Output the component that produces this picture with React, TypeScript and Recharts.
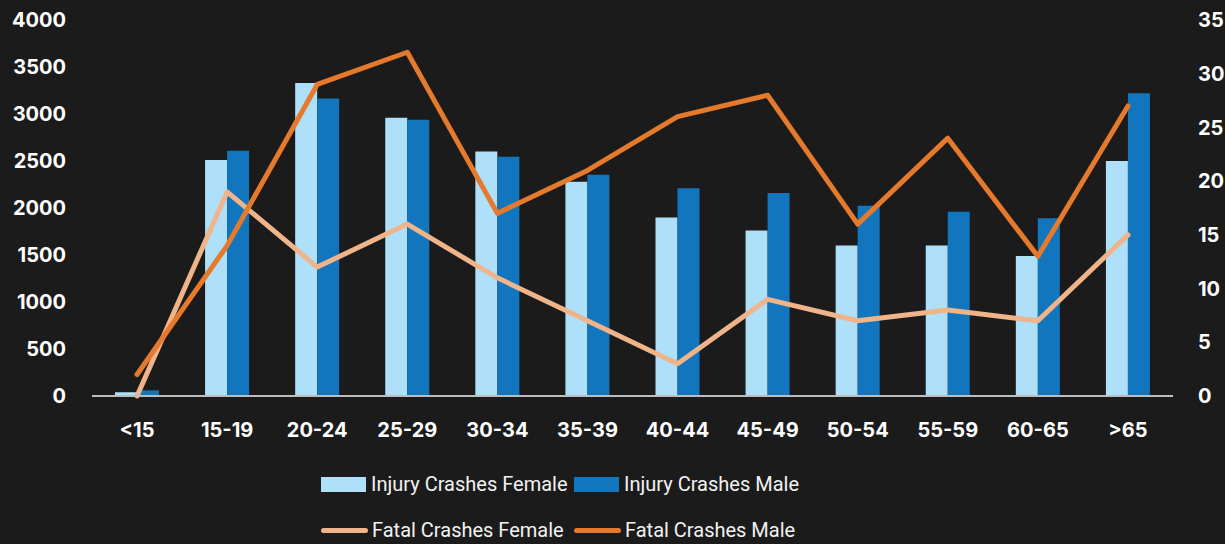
import React from 'react';
import {
  ComposedChart, Bar, Line, XAxis, YAxis, Legend
} from 'recharts';

const ageGroups = ['<15', '15-19', '20-24', '25-29', '30-34', '35-39', '40-44', '45-49', '50-54', '55-59', '60-65', '>65'];
const injuryFemale = [40, 2510, 3330, 2960, 2600, 2280, 1900, 1760, 1600, 1600, 1490, 2500];
const injuryMale = [60, 2610, 3165, 2940, 2545, 2355, 2210, 2160, 2025, 1960, 1890, 3220];
const fatalFemale = [0, 19, 12, 16, 11, 7, 3, 9, 7, 8, 7, 15];
const fatalMale = [2, 14, 29, 32, 17, 21, 26, 28, 16, 24, 13, 27];

const leftTicks = [0, 500, 1000, 1500, 2000, 2500, 3000, 3500, 4000];
const rightTicks = [0, 5, 10, 15, 20, 25, 30, 35];

const COLORS = {
  bg: '#1b1b1b',
  injuryFemale: '#aee0f9',
  injuryMale: '#1176bd',
  fatalFemale: '#f0b48a',
  fatalMale: '#e5792c',
  axis: '#bdbdbd',
  text: '#ffffff',
};

const data = ageGroups.map((name, i) => ({
  name,
  injuryFemale: injuryFemale[i],
  injuryMale: injuryMale[i],
  fatalFemale: fatalFemale[i],
  fatalMale: fatalMale[i],
}));

const tickStyle = { fill: COLORS.text, fontSize: 20, fontWeight: 700, fontFamily: 'Inter, sans-serif' };

const legendRows = [
  [
    { label: 'Injury Crashes Female', color: COLORS.injuryFemale, type: 'rect' },
    { label: 'Injury Crashes Male', color: COLORS.injuryMale, type: 'rect' },
  ],
  [
    { label: 'Fatal Crashes Female', color: COLORS.fatalFemale, type: 'line' },
    { label: 'Fatal Crashes Male', color: COLORS.fatalMale, type: 'line' },
  ],
];

const CustomLegend = () => (
  <div style={{ fontFamily: 'Roboto, sans-serif', fontSize: 20, color: '#f2f2f2' }}>
    {legendRows.map((row, r) => (
      <div key={r} style={{ display: 'flex', alignItems: 'center', height: 46, paddingLeft: 321 }}>
        {row.map(item => (
          <div key={item.label} style={{ display: 'flex', alignItems: 'center', width: 253 }}>
            {item.type === 'rect' ? (
              <span style={{ display: 'inline-block', width: 45, height: 15, background: item.color, marginRight: 5 }} />
            ) : (
              <span style={{ display: 'inline-block', width: 47, height: 5, borderRadius: 3, background: item.color, marginRight: 4 }} />
            )}
            <span>{item.label}</span>
          </div>
        ))}
      </div>
    ))}
  </div>
);

export default function App() {
  return (
    <div style={{ position: 'absolute', left: 0, top: 0, width: 1225, height: 544, background: COLORS.bg }}>
      <ComposedChart
        width={1225}
        height={544}
        data={data}
        margin={{ top: 20, right: 0, left: 0, bottom: 0 }}
        barGap={0}
      >
        <XAxis
          dataKey="name"
          height={148}
          stroke={COLORS.axis}
          strokeWidth={2}
          tickLine={false}
          tickSize={0}
          tickMargin={27}
          tick={tickStyle}
          interval={0}
        />
        <YAxis
          yAxisId="left"
          width={92}
          domain={[0, 4000]}
          ticks={leftTicks}
          axisLine={false}
          tickLine={false}
          tickSize={0}
          tickMargin={26}
          tick={tickStyle}
        />
        <YAxis
          yAxisId="right"
          orientation="right"
          width={52}
          domain={[0, 35]}
          ticks={rightTicks}
          axisLine={false}
          tickLine={false}
          tickSize={0}
          tickMargin={25}
          tick={{ ...tickStyle, textAnchor: 'start' }}
        />
        <Legend
          layout="horizontal"
          verticalAlign="middle"
          align="center"
          wrapperStyle={{ top: 461, left: 0, width: 1225 }}
          content={() => <CustomLegend />}
        />
        <Bar yAxisId="left" dataKey="injuryFemale" fill={COLORS.injuryFemale} barSize={22} isAnimationActive={false} />
        <Bar yAxisId="left" dataKey="injuryMale" fill={COLORS.injuryMale} barSize={22} isAnimationActive={false} />
        <Line
          yAxisId="right"
          type="linear"
          dataKey="fatalFemale"
          stroke={COLORS.fatalFemale}
          strokeWidth={5}
          strokeLinecap="round"
          strokeLinejoin="round"
          dot={false}
          isAnimationActive={false}
        />
        <Line
          yAxisId="right"
          type="linear"
          dataKey="fatalMale"
          stroke={COLORS.fatalMale}
          strokeWidth={5}
          strokeLinecap="round"
          strokeLinejoin="round"
          dot={false}
          isAnimationActive={false}
        />
      </ComposedChart>
    </div>
  );
}
